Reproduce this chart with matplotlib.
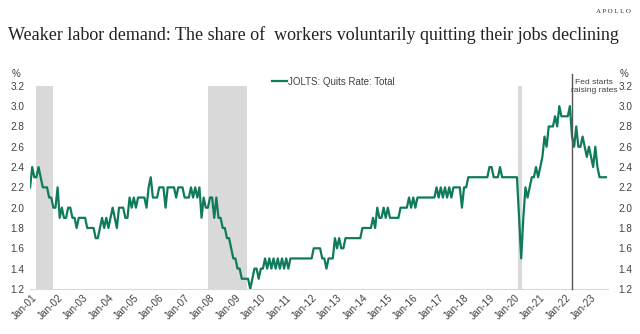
import numpy as np
import matplotlib
matplotlib.use("Agg")
import matplotlib.pyplot as plt
from matplotlib.lines import Line2D

plt.rcParams['font.family'] = ['Liberation Sans', 'DejaVu Sans']

# JOLTS quits rate (%), monthly, Dec 2000 .. Aug 2023
quits_2000 = [2.2]
quits_2001 = [2.4, 2.3, 2.3, 2.4, 2.3, 2.2, 2.2, 2.2, 2.1, 2.1, 2.0, 2.0]
quits_2002 = [2.2, 1.9, 2.0, 1.9, 1.9, 2.0, 2.0, 1.9, 1.9, 1.8, 1.9, 1.9]
quits_2003 = [1.9, 1.9, 1.8, 1.8, 1.8, 1.8, 1.7, 1.7, 1.8, 1.9, 1.8, 1.9]
quits_2004 = [1.8, 1.9, 2.0, 1.9, 1.8, 2.0, 2.0, 2.0, 1.9, 1.9, 2.1, 2.0]
quits_2005 = [2.1, 2.0, 2.1, 2.1, 2.1, 2.1, 2.0, 2.2, 2.3, 2.1, 2.1, 2.1]
quits_2006 = [2.2, 2.2, 2.2, 2.0, 2.2, 2.2, 2.2, 2.2, 2.1, 2.2, 2.2, 2.2]
quits_2007 = [2.1, 2.1, 2.1, 2.2, 2.1, 2.2, 2.1, 2.2, 1.9, 2.1, 2.0, 2.0]
quits_2008 = [2.1, 2.1, 1.9, 2.1, 1.9, 1.9, 1.8, 1.8, 1.7, 1.7, 1.6, 1.5]
quits_2009 = [1.5, 1.4, 1.4, 1.3, 1.3, 1.3, 1.3, 1.2, 1.3, 1.4, 1.4, 1.3]
quits_2010 = [1.4, 1.4, 1.5, 1.4, 1.5, 1.4, 1.5, 1.4, 1.5, 1.4, 1.5, 1.4]
quits_2011 = [1.5, 1.4, 1.5, 1.5, 1.5, 1.5, 1.5, 1.5, 1.5, 1.5, 1.5, 1.5]
quits_2012 = [1.5, 1.6, 1.6, 1.6, 1.6, 1.5, 1.5, 1.4, 1.5, 1.5, 1.5, 1.7]
quits_2013 = [1.6, 1.7, 1.6, 1.6, 1.7, 1.7, 1.7, 1.7, 1.7, 1.7, 1.7, 1.7]
quits_2014 = [1.8, 1.8, 1.8, 1.8, 1.8, 1.9, 1.8, 2.0, 1.9, 1.9, 2.0, 1.9]
quits_2015 = [2.0, 1.9, 1.9, 1.9, 1.9, 1.9, 2.0, 2.0, 2.0, 2.0, 2.1, 2.0]
quits_2016 = [2.1, 2.0, 2.1, 2.1, 2.1, 2.1, 2.1, 2.1, 2.1, 2.1, 2.1, 2.2]
quits_2017 = [2.1, 2.2, 2.1, 2.2, 2.1, 2.2, 2.1, 2.2, 2.2, 2.2, 2.2, 2.0]
quits_2018 = [2.2, 2.2, 2.3, 2.3, 2.3, 2.3, 2.3, 2.3, 2.3, 2.3, 2.3, 2.3]
quits_2019 = [2.4, 2.4, 2.3, 2.3, 2.3, 2.4, 2.3, 2.3, 2.3, 2.3, 2.3, 2.3]
quits_2020 = [2.3, 2.3, 1.9, 1.5, 1.9, 2.2, 2.1, 2.2, 2.3, 2.3, 2.4, 2.3]
quits_2021 = [2.4, 2.5, 2.7, 2.6, 2.8, 2.8, 2.8, 2.9, 2.8, 3.0, 2.9, 2.9]
quits_2022 = [2.9, 2.9, 3.0, 2.7, 2.6, 2.8, 2.6, 2.6, 2.7, 2.6, 2.5, 2.6]
quits_2023 = [2.5, 2.4, 2.6, 2.4, 2.3, 2.3, 2.3, 2.3]

quits = (quits_2000 + quits_2001 + quits_2002 + quits_2003 + quits_2004 + quits_2005
         + quits_2006 + quits_2007 + quits_2008 + quits_2009 + quits_2010 + quits_2011
         + quits_2012 + quits_2013 + quits_2014 + quits_2015 + quits_2016 + quits_2017
         + quits_2018 + quits_2019 + quits_2020 + quits_2021 + quits_2022 + quits_2023)

# months counted from Jan 2001 = 0
recessions = [(2, 10), (83, 101.5), (229.5, 231.5)]
fed_hike = 255
tick_labels = ["Jan-%02d" % y for y in range(1, 24)]

green = "#0f7a5c"
grey_txt = "#404040"

fig = plt.figure(figsize=(6.4, 3.34), dpi=100)
ax = fig.add_axes([0.047, 0.135, 0.903, 0.608])

x = np.arange(len(quits)) - 1
for a, b in recessions:
    ax.axvspan(a, b, color="#d9d9d9", lw=0, zorder=0)
ax.plot(x, quits, color=green, lw=1.6, zorder=3)
ax.plot([fed_hike, fed_hike], [1.2, 3.32], color="#555555", lw=1, zorder=4, clip_on=False)
ax.text(fed_hike + 10.3, 3.27, "Fed starts\nraising rates", fontsize=6.1, color=grey_txt,
        ha="center", va="top", multialignment="center", linespacing=1.35, zorder=5)

ax.set_xlim(-1, 272)
ax.set_ylim(1.2, 3.2)
ax.set_yticks(np.arange(1.2, 3.21, 0.2))
ax.set_yticklabels(["%.1f" % v for v in np.arange(1.2, 3.21, 0.2)])
ax.set_xticks(np.arange(0, 12 * len(tick_labels), 12))
ax.set_xticklabels(tick_labels, rotation=45, ha="right", rotation_mode="anchor")
ax.tick_params(axis="both", length=0, labelsize=7.2, colors=grey_txt)
ax.tick_params(axis="y", pad=4, labelright=True)
ax.tick_params(axis="x", pad=3)
for s in ["top", "left", "right"]:
    ax.spines[s].set_visible(False)
ax.spines["bottom"].set_color("#d9d9d9")
# push right-hand labels a little further out
for t in ax.yaxis.get_major_ticks():
    t.label2.set_x(1.008)

ax.text(-0.025, 1.045, "%", transform=ax.transAxes, fontsize=7, color=grey_txt, ha="center")
ax.text(1.028, 1.045, "%", transform=ax.transAxes, fontsize=7, color=grey_txt, ha="center")

handle = Line2D([], [], color=green, lw=1.6)
ax.legend([handle], ["JOLTS: Quits Rate: Total"], loc="center", bbox_to_anchor=(0.525, 1.02),
          frameon=False, fontsize=7, handlelength=1.5, handletextpad=0.1,
          labelcolor=grey_txt)

fig.text(0.012, 0.895, "Weaker labor demand: The share of  workers voluntarily quitting their jobs declining",
         fontsize=13, family="Liberation Serif", color="#222222", va="center")
fig.text(0.985, 0.965, "A P O L L O", fontsize=5, family="Liberation Serif", color="#333333",
         ha="right", va="center")

fig.savefig("out.png", dpi=100)
